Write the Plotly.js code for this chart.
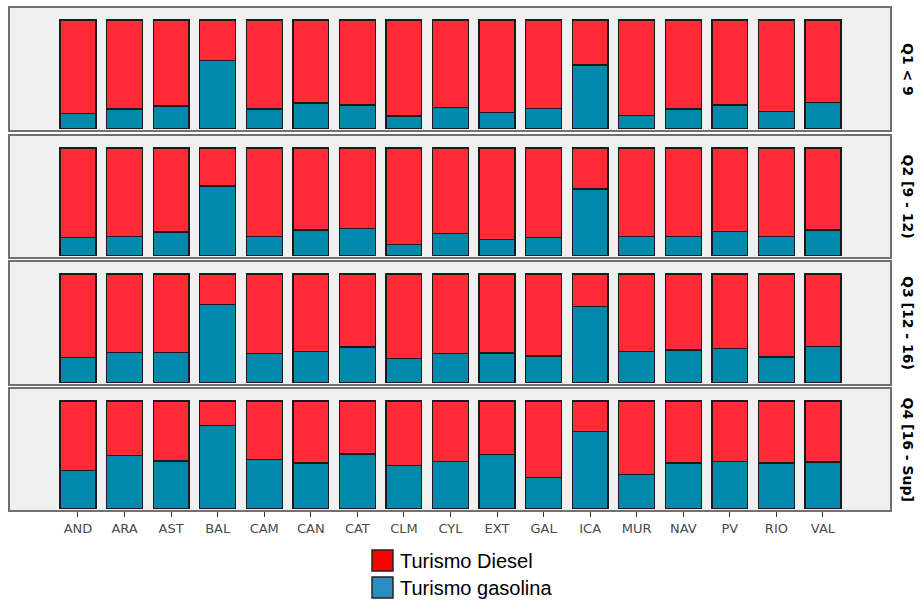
<!DOCTYPE html>
<html>
<head>
<meta charset="utf-8">
<script src="https://cdn.plot.ly/plotly-3.0.1.min.js"></script>
<style>html,body{margin:0;padding:0;background:#fff;}#chart{width:924px;height:603px;}</style>
</head>
<body>
<div id="chart"></div>
<script>
// ---- data ----
const regions = ["AND","ARA","AST","BAL","CAM","CAN","CAT","CLM","CYL","EXT","GAL","ICA","MUR","NAV","PV","RIO","VAL"];
const facetLabels = ["Q1 < 9", "Q2 [9 - 12)", "Q3 [12 - 16)", "Q4 [16 - Sup]"];
const seriesNames = ["Turismo Diesel", "Turismo gasolina"];

const q1Gasolina = [0.14,0.18,0.21,0.625,0.18,0.235,0.217,0.118,0.195,0.152,0.183,0.585,0.121,0.18,0.217,0.161,0.241];
const q1Diesel   = [0.86,0.82,0.79,0.375,0.82,0.765,0.783,0.882,0.805,0.848,0.817,0.415,0.879,0.82,0.783,0.839,0.759];
const q2Gasolina = [0.166,0.18,0.22,0.646,0.18,0.237,0.255,0.105,0.205,0.15,0.166,0.62,0.18,0.175,0.225,0.18,0.237];
const q2Diesel   = [0.834,0.82,0.78,0.354,0.82,0.763,0.745,0.895,0.795,0.85,0.834,0.38,0.82,0.825,0.775,0.82,0.763];
const q3Gasolina = [0.23,0.275,0.275,0.72,0.27,0.287,0.327,0.223,0.27,0.272,0.245,0.703,0.287,0.30,0.315,0.235,0.336];
const q3Diesel   = [0.77,0.725,0.725,0.28,0.73,0.713,0.673,0.777,0.73,0.728,0.755,0.297,0.713,0.70,0.685,0.765,0.664];
const q4Gasolina = [0.357,0.495,0.443,0.772,0.455,0.425,0.508,0.403,0.44,0.50,0.292,0.717,0.317,0.425,0.437,0.425,0.434];
const q4Diesel   = [0.643,0.505,0.557,0.228,0.545,0.575,0.492,0.597,0.56,0.50,0.708,0.283,0.683,0.575,0.563,0.575,0.566];

// ---- styling ----
const gasColor = "#0089aa", dieselColor = "#ff2a36";
const legendRed = "#ff0000", legendBlue = "#2a8cc0";
const panels = [
  {gas: q1Gasolina, diesel: q1Diesel, dom: [0.757, 1.0]},
  {gas: q2Gasolina, diesel: q2Diesel, dom: [0.504, 0.745]},
  {gas: q3Gasolina, diesel: q3Diesel, dom: [0.251, 0.494]},
  {gas: q4Gasolina, diesel: q4Diesel, dom: [0.0, 0.241]}
];

const traces = [];
const layout = {
  width: 924, height: 603,
  margin: {l: 10, r: 34, t: 8, b: 93},
  paper_bgcolor: "#ffffff",
  plot_bgcolor: "#f0f0f0",
  barmode: "stack",
  bargap: 0.23,
  showlegend: false,
  annotations: [],
  shapes: []
};

panels.forEach((p, i) => {
  const n = i + 1;
  const xa = n === 1 ? "x" : "x" + n;
  const ya = n === 1 ? "y" : "y" + n;
  traces.push({
    type: "bar", x: regions, y: p.gas, name: seriesNames[1],
    xaxis: xa, yaxis: ya,
    marker: {color: gasColor, line: {color: "#1a1a1a", width: 1.3}},
    hoverinfo: "x+y"
  });
  traces.push({
    type: "bar", x: regions, y: p.diesel, name: seriesNames[0],
    xaxis: xa, yaxis: ya,
    marker: {color: dieselColor, line: {color: "#1a1a1a", width: 1.3}},
    hoverinfo: "x+y"
  });
  const xkey = n === 1 ? "xaxis" : "xaxis" + n;
  const ykey = n === 1 ? "yaxis" : "yaxis" + n;
  const isBottom = n === 4;
  layout[xkey] = {
    domain: [0, 1],
    anchor: ya,
    type: "category",
    range: [-1.46, 17.44],
    showgrid: false, zeroline: false,
    showline: true, mirror: true, linecolor: "#707070", linewidth: 2,
    showticklabels: isBottom,
    ticks: isBottom ? "outside" : "",
    ticklen: 5, tickwidth: 1, tickcolor: "#333333",
    tickfont: {family: "DejaVu Sans, sans-serif", size: 13, color: "#4a4a4a"},
    fixedrange: true
  };
  layout[ykey] = {
    domain: p.dom,
    anchor: xa,
    range: [-0.012, 1.11],
    showgrid: false, zeroline: false,
    showline: true, mirror: true, linecolor: "#707070", linewidth: 2,
    showticklabels: false, ticks: "",
    fixedrange: true
  };
  layout.annotations.push({
    text: "<b>" + facetLabels[i] + "</b>",
    xref: "paper", yref: "paper",
    x: 1, y: (p.dom[0] + p.dom[1]) / 2,
    xanchor: "center", yanchor: "middle",
    xshift: 18,
    textangle: 90,
    showarrow: false,
    font: {family: "DejaVu Sans, sans-serif", size: 14, color: "#000000"}
  });
});

// manual legend (large square keys as in the reference)
const legendItems = [
  {name: seriesNames[0], color: legendRed, y0: -0.0797, y1: -0.1215, ty: -0.1006},
  {name: seriesNames[1], color: legendBlue, y0: -0.1335, y1: -0.1753, ty: -0.1544}
];
legendItems.forEach(it => {
  layout.shapes.push({
    type: "rect", xref: "paper", yref: "paper",
    x0: 0.4114, x1: 0.4352, y0: it.y0, y1: it.y1,
    fillcolor: it.color, line: {color: "#222222", width: 1.5}
  });
  layout.annotations.push({
    text: it.name, xref: "paper", yref: "paper",
    x: 0.4409, y: it.ty, xanchor: "left", yanchor: "middle",
    showarrow: false,
    font: {family: "Liberation Sans, Arial, sans-serif", size: 20, color: "#000000"}
  });
});

Plotly.newPlot("chart", traces, layout, {displayModeBar: false, staticPlot: true});
</script>
</body>
</html>
